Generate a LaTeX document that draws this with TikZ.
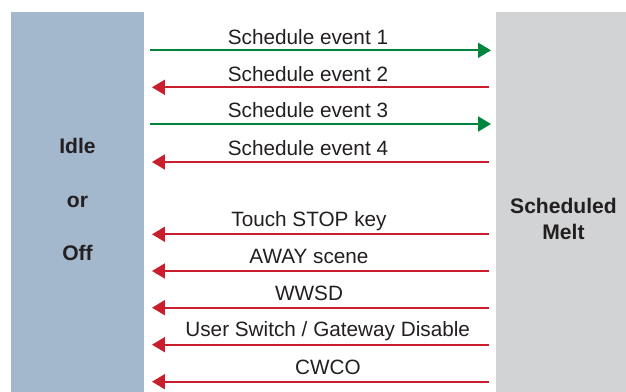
\documentclass[tikz,border=0pt]{standalone}
\usepackage{fontspec}
\setmainfont{Liberation Sans}
\usetikzlibrary{arrows.meta}
\definecolor{idlebg}{RGB}{163,184,204}
\definecolor{meltbg}{RGB}{209,211,212}
\definecolor{startgreen}{RGB}{0,133,63}
\definecolor{stopred}{RGB}{200,30,45}
\definecolor{labeltext}{RGB}{35,31,32}

\begin{document}
\begin{tikzpicture}[x=0.02cm, y=-0.02cm,
    statebox/.style={inner sep=0pt, outer sep=0pt, minimum height=7.6cm},
    statetext/.style={font=\fontsize{12}{14.8}\selectfont\bfseries, text=labeltext, align=center, anchor=base},
    evtext/.style={font=\fontsize{11.8}{14}\selectfont, text=labeltext, anchor=base},
    go/.style={startgreen, line width=0.04cm, -{Triangle[length=0.26cm,width=0.30cm]}, shorten <=0.13cm, shorten >=0.1cm},
    halt/.style={stopred, line width=0.04cm, -{Triangle[length=0.26cm,width=0.30cm]}, shorten <=0.14cm, shorten >=0.16cm}]
    \useasboundingbox (0,0) rectangle (626,392);

    % Two state bars
    \node[statebox, fill=idlebg, minimum width=2.66cm] (idle) at (77.5,202) {};
    \node[statebox, fill=meltbg, minimum width=2.6cm] (melt) at (561,202) {};

    % State names
    \node[statetext] (idlename) at (77.5,153.3) {Idle};
    \node[statetext] (orname) at (77.5,207.3) {or};
    \node[statetext] (offname) at (77.5,260) {Off};
    \node[statetext] (meltname) at (563.5,239.3) {Scheduled\\Melt};

    % Schedule events
    \draw[go] (idle.east |- 0,50.3) -- (melt.west |- 0,50.3);
    \node[evtext] (ev1) at (308,44) {Schedule event 1};
    \draw[halt] (melt.west |- 0,87.3) -- (idle.east |- 0,87.3);
    \node[evtext] (ev2) at (308,81) {Schedule event 2};
    \draw[go] (idle.east |- 0,124) -- (melt.west |- 0,124);
    \node[evtext] (ev3) at (308,117.5) {Schedule event 3};
    \draw[halt] (melt.west |- 0,162) -- (idle.east |- 0,162);
    \node[evtext] (ev4) at (308,155) {Schedule event 4};

    % Other exits
    \draw[halt] (melt.west |- 0,234.3) -- (idle.east |- 0,234.3);
    \node[evtext] (stopkey) at (309,226.7) {Touch STOP key};
    \draw[halt] (melt.west |- 0,271) -- (idle.east |- 0,271);
    \node[evtext] (away) at (309,263.7) {AWAY scene};
    \draw[halt] (melt.west |- 0,307.7) -- (idle.east |- 0,307.7);
    \node[evtext] (wwsd) at (309,300.7) {WWSD};
    \draw[halt] (melt.west |- 0,344.7) -- (idle.east |- 0,344.7);
    \node[evtext] (userswitch) at (327.7,336.7) {User Switch / Gateway Disable};
    \draw[halt] (melt.west |- 0,381.7) -- (idle.east |- 0,381.7);
    \node[evtext] (cwco) at (328,374) {CWCO};

\end{tikzpicture}
\end{document}
